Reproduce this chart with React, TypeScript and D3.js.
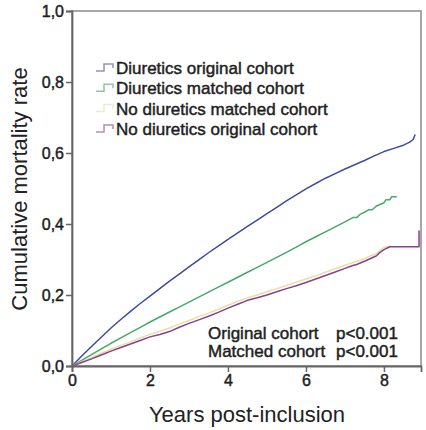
import React, { useEffect, useRef } from "react";
import * as d3 from "d3";

// Kaplan-Meier style cumulative mortality
const blueYears = [0, 0.25, 0.5, 0.75, 1, 1.25, 1.5, 1.75, 2, 2.25, 2.5, 2.75, 3, 3.25, 3.5, 3.75, 4, 4.25, 4.5, 4.75, 5, 5.25, 5.5, 5.75, 6, 6.25, 6.5, 6.75, 7, 7.25, 7.5, 7.75, 8, 8.25, 8.5, 8.65, 8.75, 8.8];
const blueRates = [0, 0.028, 0.055, 0.081, 0.107, 0.131, 0.154, 0.176, 0.197, 0.218, 0.239, 0.259, 0.279, 0.299, 0.319, 0.338, 0.357, 0.375, 0.393, 0.411, 0.429, 0.447, 0.465, 0.482, 0.499, 0.514, 0.529, 0.542, 0.555, 0.567, 0.579, 0.592, 0.604, 0.613, 0.622, 0.63, 0.638, 0.652];

const greenYears = [0, 0.25, 0.5, 0.75, 1, 1.25, 1.5, 1.75, 2, 2.25, 2.5, 2.75, 3, 3.25, 3.5, 3.75, 4, 4.25, 4.5, 4.75, 5, 5.25, 5.5, 5.75, 6, 6.25, 6.5, 6.75, 7, 7.2, 7.3, 7.4, 7.5, 7.6, 7.7, 7.8, 7.9, 8, 8.05, 8.15, 8.2, 8.33];
const greenRates = [0, 0.016, 0.032, 0.048, 0.064, 0.079, 0.094, 0.109, 0.124, 0.138, 0.152, 0.166, 0.18, 0.194, 0.208, 0.222, 0.236, 0.25, 0.264, 0.278, 0.292, 0.306, 0.32, 0.335, 0.35, 0.364, 0.378, 0.392, 0.406, 0.418, 0.418, 0.428, 0.433, 0.44, 0.44, 0.45, 0.455, 0.46, 0.468, 0.468, 0.477, 0.477];

const yellowYears = [0, 0.25, 0.5, 0.75, 1, 1.25, 1.5, 1.75, 2, 2.25, 2.5, 2.75, 3, 3.25, 3.5, 3.75, 4, 4.25, 4.5, 4.75, 5, 5.25, 5.5, 5.75, 6, 6.25, 6.5, 6.75, 7, 7.25, 7.5, 7.65, 7.8, 7.9, 8, 8.2];
const yellowRates = [0, 0.012, 0.024, 0.036, 0.047, 0.058, 0.068, 0.079, 0.089, 0.098, 0.107, 0.118, 0.128, 0.139, 0.149, 0.16, 0.171, 0.182, 0.192, 0.2, 0.209, 0.218, 0.227, 0.236, 0.245, 0.254, 0.264, 0.274, 0.284, 0.293, 0.302, 0.31, 0.316, 0.326, 0.334, 0.338];

const purpleYears = [0, 0.25, 0.5, 0.75, 1, 1.25, 1.5, 1.75, 2, 2.25, 2.5, 2.75, 3, 3.25, 3.5, 3.75, 4, 4.25, 4.5, 4.75, 5, 5.25, 5.5, 5.75, 6, 6.25, 6.5, 6.75, 7, 7.2, 7.3, 7.5, 7.6, 7.8, 7.9, 8, 8.15, 8.9, 8.9];
const purpleRates = [0, 0.01, 0.02, 0.031, 0.042, 0.052, 0.062, 0.072, 0.082, 0.089, 0.097, 0.109, 0.12, 0.13, 0.14, 0.151, 0.163, 0.174, 0.185, 0.192, 0.2, 0.209, 0.218, 0.226, 0.235, 0.245, 0.255, 0.265, 0.275, 0.283, 0.286, 0.295, 0.3, 0.31, 0.32, 0.328, 0.336, 0.336, 0.382];

const seriesNames = ["Diuretics original cohort", "Diuretics matched cohort", "No diuretics matched cohort", "No diuretics original cohort"];
const seriesColors = ["#3f4b9e", "#45a96a", "#e6e1a2", "#8a3f8f"];
const legendColors = ["#8f95c4", "#8cc9a2", "#ecead0", "#b78ab9"];

const yTicks = [0, 0.2, 0.4, 0.6, 0.8, 1.0];
const xTicks = [0, 2, 4, 6, 8];
const notes = [["Original cohort", "p<0.001"], ["Matched cohort", "p<0.001"]];

export default function App() {
  const ref = useRef<SVGSVGElement>(null);

  useEffect(() => {
    const svg = d3.select(ref.current);
    svg.selectAll("*").remove();

    const left = 72, right = 421, top = 11, bottom = 366;
    const x = d3.scaleLinear().domain([0, 8.95]).range([left, right]);
    const y = d3.scaleLinear().domain([0, 1]).range([bottom, top]);
    const font = "'Liberation Sans', Arial, sans-serif";
    const ink = "#1e1e1e";

    svg.append("rect").attr("width", 426).attr("height", 430).attr("fill", "#fff");

    // frame
    svg.append("rect")
      .attr("x", left).attr("y", top)
      .attr("width", right - left).attr("height", bottom - top)
      .attr("fill", "none").attr("stroke", "#8a8a8a").attr("stroke-width", 1.5);

    // curves
    const allYears = [blueYears, greenYears, yellowYears, purpleYears];
    const allRates = [blueRates, greenRates, yellowRates, purpleRates];
    const line = d3.line<[number, number]>()
      .x(d => x(d[0]))
      .y(d => y(d[1]));
    allYears.forEach((yrs, i) => {
      const pts = yrs.map((t, j) => [t, allRates[i][j]] as [number, number]);
      svg.append("path")
        .attr("d", line(pts))
        .attr("fill", "none")
        .attr("stroke", seriesColors[i])
        .attr("stroke-width", 1.5)
        .attr("stroke-linejoin", "round");
    });

    // axes
    const yAxis = d3.axisLeft(y).tickValues(yTicks).tickSize(6).tickPadding(2)
      .tickFormat(d => d3.format(".1f")(d as number).replace(".", ","));
    const gy = svg.append("g").attr("transform", `translate(${left},0)`).call(yAxis);
    gy.select(".domain").attr("stroke", "#666").attr("stroke-width", 1.8);
    gy.selectAll(".tick line").attr("stroke", "#666").attr("stroke-width", 1.5);
    gy.selectAll(".tick text").attr("font-family", font).attr("font-size", 16)
      .attr("fill", ink).attr("stroke", ink).attr("stroke-width", 0.45);

    const xAxis = d3.axisBottom(x).tickValues(xTicks).tickSize(6).tickPadding(3)
      .tickFormat(d => String(d));
    const gx = svg.append("g").attr("transform", `translate(0,${bottom})`).call(xAxis);
    gx.select(".domain").attr("stroke", "#666").attr("stroke-width", 1.8);
    gx.selectAll(".tick line").attr("stroke", "#666").attr("stroke-width", 1.5);
    gx.selectAll(".tick text").attr("font-family", font).attr("font-size", 16)
      .attr("fill", ink).attr("stroke", ink).attr("stroke-width", 0.45);

    // axis titles
    svg.append("text")
      .attr("transform", `translate(27,189) rotate(-90)`)
      .attr("text-anchor", "middle")
      .attr("font-family", font).attr("font-size", 22).attr("fill", "#222")
      .text("Cumulative mortality rate");
    svg.append("text")
      .attr("x", 247).attr("y", 422)
      .attr("text-anchor", "middle")
      .attr("font-family", font).attr("font-size", 22).attr("fill", "#222")
      .text("Years post-inclusion");

    // legend
    seriesNames.forEach((name, i) => {
      const cy = 68 + i * 20.3;
      svg.append("path")
        .attr("d", `M96,${cy + 3}H104V${cy - 4}H113V${cy}`)
        .attr("fill", "none").attr("stroke", legendColors[i]).attr("stroke-width", 1.5);
      svg.append("text")
        .attr("x", 116).attr("y", cy + 6)
        .attr("font-family", font).attr("font-size", 17)
        .attr("fill", ink).attr("stroke", ink).attr("stroke-width", 0.45)
        .text(name);
    });

    // test notes
    notes.forEach((row, i) => {
      const by = 339 + i * 18;
      svg.append("text").attr("x", 208).attr("y", by)
        .attr("font-family", font).attr("font-size", 17)
        .attr("fill", ink).attr("stroke", ink).attr("stroke-width", 0.45)
        .text(row[0]);
      svg.append("text").attr("x", 336).attr("y", by)
        .attr("font-family", font).attr("font-size", 17)
        .attr("fill", ink).attr("stroke", ink).attr("stroke-width", 0.45)
        .text(row[1]);
    });
  }, []);

  return (
    <svg ref={ref} width={426} height={430}
      style={{ position: "absolute", left: 0, top: 0 }} />
  );
}
